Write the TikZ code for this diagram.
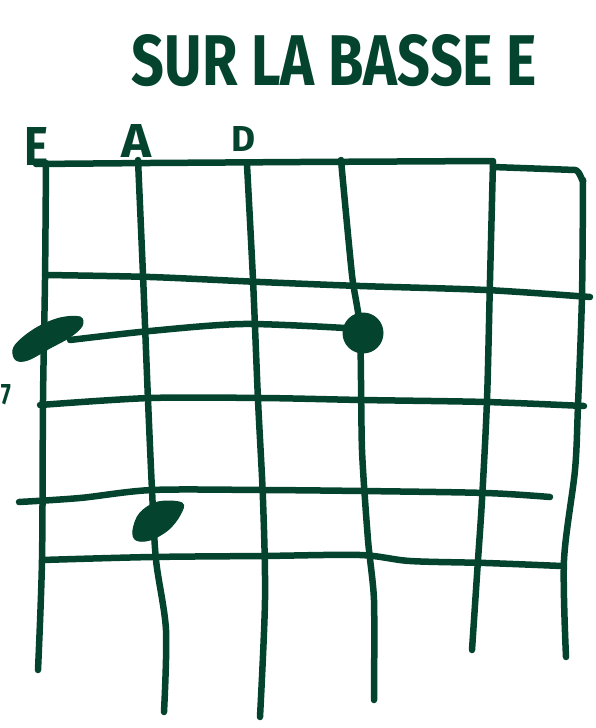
\documentclass[tikz,border=0pt]{standalone}
\usepackage{fontspec}
\usepackage{graphicx}
\newfontfamily\hand{Fira Sans}
\definecolor{ink}{RGB}{4,68,46}
\tikzset{
  inkline/.style={draw=ink, line width=6.5pt, line cap=round, line join=round},
  blob/.style={fill=ink, draw=ink, line width=1pt},
  lab/.style={text=ink, inner sep=0pt}
}
\begin{document}
\begin{tikzpicture}[x=1pt,y=-1pt]
\useasboundingbox (0,0) rectangle (595,728);
\clip (0,0) rectangle (595,728);
% title
\node[lab] (title) at (334.5,60.5) {\resizebox{405pt}{51pt}{\hand\bfseries SUR LA BASSE E}};
% string labels
\node[lab] (lE) at (37,146) {\resizebox{24pt}{38pt}{\hand\bfseries E}};
\node[lab] (lA) at (137,141) {\resizebox{30pt}{33pt}{\hand\bfseries A}};
\node[lab] (lD) at (243,139) {\resizebox{24pt}{25pt}{\hand\bfseries D}};
\node[lab] (l7) at (6,395) {\resizebox{10pt}{20pt}{\hand\bfseries 7}};
% nut and right edge
\draw[inkline] (36,164) -- (150,163) -- (300,162) -- (493,161);
\draw[inkline] (493,167) -- (575,170) to[out=0,in=-90] (583,180)
  plot[smooth, tension=0.5] coordinates {(583,180) (582,295) (578,405) (575,470) (564,560) (566,657)};
% strings
\draw[inkline] plot[smooth, tension=0.5] coordinates {(46,163) (45,280) (43,400) (42,560) (38,670)};
\draw[inkline] plot[smooth, tension=0.5] coordinates {(138,160) (143,275) (148,400) (152,490) (156,560) (166,630) (164,712)};
\draw[inkline] plot[smooth, tension=0.5] coordinates {(247,165) (253,280) (258,400) (263,500) (265,600) (260,717)};
\draw[inkline] plot[smooth, tension=0.4] coordinates {(341,160) (352,275) (360,330) (362,450) (368,540) (374,600) (374,700)};
\draw[inkline] plot[smooth, tension=0.5] coordinates {(493,162) (490,280) (487,400) (482,500) (478,560) (472,650)};
% frets
\draw[inkline] plot[smooth, tension=0.5] coordinates {(45,275) (150,277) (260,282) (360,286) (486,290) (590,297)};
\draw[inkline] plot[smooth, tension=0.5] coordinates {(70,340) (150,331) (243,324) (345,328)};
\draw[inkline] plot[smooth, tension=0.5] coordinates {(40,405) (150,398) (262,398) (362,400) (486,402) (584,406)};
\draw[inkline] plot[smooth, tension=0.5] coordinates {(19,502) (80,498) (152,490) (262,490) (362,491) (486,493) (550,497)};
\draw[inkline] plot[smooth, tension=0.5] coordinates {(42,560) (152,557) (262,556) (360,555) (410,561) (486,563) (562,566)};
% finger dots
\fill[blob] plot[smooth cycle, tension=0.6] coordinates {(13,350) (20,340) (38,327) (60,318) (80,317) (82,326) (70,337) (50,348) (28,360) (16,360)};
\fill[blob] (363,333) ellipse [x radius=20, y radius=20];
\fill[blob] plot[smooth cycle, tension=0.6] coordinates {(133,530) (140,513) (158,502) (182,503) (180,515) (168,530) (150,540) (136,540)};
\end{tikzpicture}
\end{document}
